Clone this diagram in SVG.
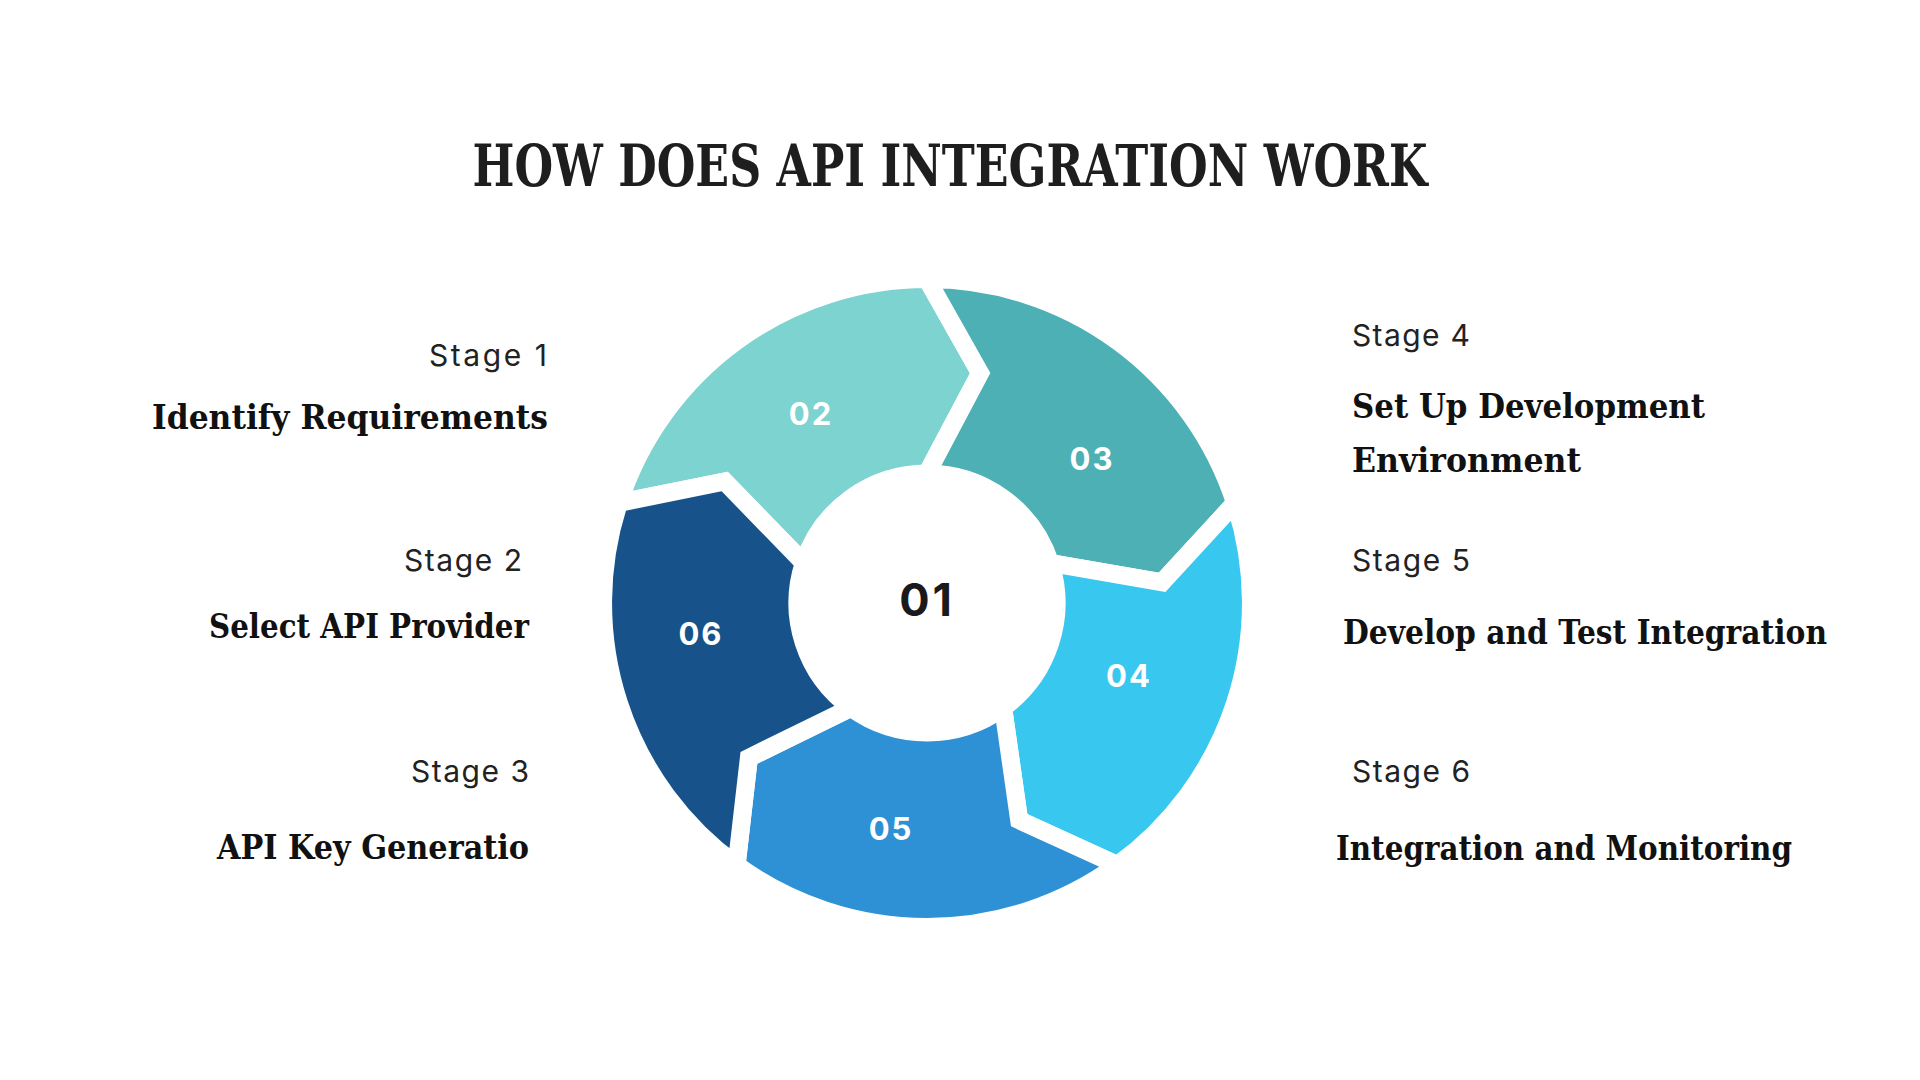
<svg xmlns="http://www.w3.org/2000/svg" width="1920" height="1080" viewBox="0 0 1920 1080">
<style>
.bg{fill:#ffffff}
.title{font-family:"DejaVu Serif","Liberation Serif",serif;font-weight:700;font-size:57px;fill:#1e1e1e}
.stage{font-family:Inter,"Liberation Sans",sans-serif;font-size:30px;fill:#222222}
.label{font-family:"DejaVu Serif","Liberation Serif",serif;font-weight:700;font-size:33px;fill:#111111}
.seg{stroke:#ffffff;stroke-width:18;stroke-linejoin:miter}
.num{font-family:Inter,"Liberation Sans",sans-serif;font-weight:700;font-size:31px;fill:#ffffff;text-anchor:middle;letter-spacing:2px}
.center{font-family:Inter,"Liberation Sans",sans-serif;font-weight:700;font-size:45px;fill:#1a1a1a;text-anchor:middle;letter-spacing:3px}
</style>
<rect class="bg" x="0" y="0" width="1920" height="1080"/>
<text class="title" x="950" y="186" text-anchor="middle" textLength="955" lengthAdjust="spacingAndGlyphs">HOW DOES API INTEGRATION WORK</text>

<g id="cycle">
<g id="seg02">
<path class="seg" fill="#7DD3D0" d="M618.9,502.9 A324,324 0 0 1 927,279 L980.1,373.1 L927,473.5 A129.5,129.5 0 0 0 803.8,563.0 L724.7,481.5 Z"/>
<text class="num" x="811" y="425">02</text>
</g>
<g id="seg03">
<path class="seg" fill="#4CB0B4" d="M927,279 A324,324 0 0 1 1235.1,502.9 L1162.1,582.4 L1050.2,563.0 A129.5,129.5 0 0 0 927,473.5 L980.1,373.1 Z"/>
<text class="num" x="1092" y="470">03</text>
</g>
<g id="seg04">
<path class="seg" fill="#38C7EE" d="M1235.1,502.9 A324,324 0 0 1 1117.4,865.1 L1019.2,820.2 L1003.1,707.8 A129.5,129.5 0 0 0 1050.2,563.0 L1162.1,582.4 Z"/>
<text class="num" x="1129" y="687">04</text>
</g>
<g id="seg05">
<path class="seg" fill="#2E90D5" d="M1117.4,865.1 A324,324 0 0 1 736.6,865.1 L748.9,757.8 L850.9,707.8 A129.5,129.5 0 0 0 1003.1,707.8 L1019.2,820.2 Z"/>
<text class="num" x="891" y="840">05</text>
</g>
<g id="seg06">
<path class="seg" fill="#17538A" d="M736.6,865.1 A324,324 0 0 1 618.9,502.9 L724.7,481.5 L803.8,563.0 A129.5,129.5 0 0 0 850.9,707.8 L748.9,757.8 Z"/>
<text class="num" x="701" y="645">06</text>
</g>
<g id="hub">
<text class="center" x="927" y="616">01</text>
</g>
</g>

<g id="connectors"></g>

<g id="stage1">
<text class="stage" x="429" y="366" textLength="118" lengthAdjust="spacing">Stage 1</text>
<text class="label" x="152" y="429" textLength="396" lengthAdjust="spacingAndGlyphs">Identify Requirements</text>
</g>
<g id="stage2">
<text class="stage" x="404" y="571" textLength="118" lengthAdjust="spacing">Stage 2</text>
<text class="label" x="209" y="638" textLength="320" lengthAdjust="spacingAndGlyphs">Select API Provider</text>
</g>
<g id="stage3">
<text class="stage" x="411" y="782" textLength="118" lengthAdjust="spacing">Stage 3</text>
<text class="label" x="217" y="859" textLength="312" lengthAdjust="spacingAndGlyphs">API Key Generatio</text>
</g>
<g id="stage4">
<text class="stage" x="1352" y="346" textLength="118" lengthAdjust="spacing">Stage 4</text>
<text class="label" x="1352" y="418" textLength="353" lengthAdjust="spacingAndGlyphs">Set Up Development</text>
<text class="label" x="1352" y="472" textLength="229" lengthAdjust="spacingAndGlyphs">Environment</text>
</g>
<g id="stage5">
<text class="stage" x="1352" y="571" textLength="118" lengthAdjust="spacing">Stage 5</text>
<text class="label" x="1343" y="644" textLength="484" lengthAdjust="spacingAndGlyphs">Develop and Test Integration</text>
</g>
<g id="stage6">
<text class="stage" x="1352" y="782" textLength="118" lengthAdjust="spacing">Stage 6</text>
<text class="label" x="1336" y="860" textLength="456" lengthAdjust="spacingAndGlyphs">Integration and Monitoring</text>
</g>
</svg>
